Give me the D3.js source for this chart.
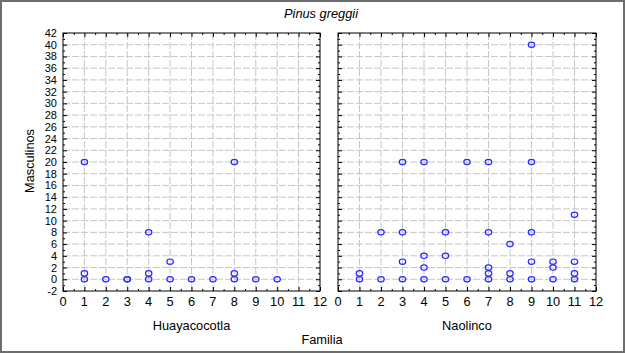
<!DOCTYPE html>
<html>
<head>
<meta charset="utf-8">
<script src="https://cdn.jsdelivr.net/npm/d3@7"></script>
<style>
  body { margin: 0; background: #fff; }
  svg text { font-family: "Liberation Sans", Arial, sans-serif; fill: #000; }
</style>
</head>
<body>
<div id="chart"></div>
<script>
// data
var xTicks = [0, 1, 2, 3, 4, 5, 6, 7, 8, 9, 10, 11, 12];
var yTicks = [-2, 0, 2, 4, 6, 8, 10, 12, 14, 16, 18, 20, 22, 24, 26, 28, 30, 32, 34, 36, 38, 40, 42];

var huayFamilia =    [1, 1, 1, 2, 3, 3, 4, 4, 4, 5, 5, 6, 7, 8, 8, 8, 9, 10];
var huayMasculinos = [20, 1, 0, 0, 0, 0, 8, 1, 0, 3, 0, 0, 0, 20, 1, 0, 0, 0];

var naoFamilia =    [1, 1, 2, 2, 3, 3, 3, 3, 4, 4, 4, 4, 5, 5, 5, 6, 6, 7, 7, 7, 7, 7, 8, 8, 8, 9, 9, 9, 9, 9, 10, 10, 10, 11, 11, 11, 11];
var naoMasculinos = [0, 1, 0, 8, 0, 3, 8, 20, 0, 2, 4, 20, 0, 4, 8, 0, 20, 0, 1, 2, 8, 20, 0, 1, 6, 0, 3, 8, 20, 40, 0, 2, 3, 0, 1, 3, 11];

var panels = [
    { name: 'Huayacocotla', fam: huayFamilia, masc: huayMasculinos, left: 63, right: 320, labels: true },
    { name: 'Naolinco', fam: naoFamilia, masc: naoMasculinos, left: 338, right: 596, labels: false }
];

var W = 625, H = 353;
var plotTop = 33, plotBottom = 291;
var fs = 12.8;

var svg = d3.select('#chart')
    .append('svg')
    .attr('width', W)
    .attr('height', H)

// outer frame
svg.append('rect')
    .attr('x', 1).attr('y', 1)
    .attr('width', W - 2).attr('height', H - 2)
    .attr('fill', '#fff')
    .attr('stroke', '#6e6e6e')
    .attr('stroke-width', 2)

svg.append('text')
    .attr('x', 321).attr('y', 18)
    .attr('text-anchor', 'middle')
    .attr('font-size', fs)
    .attr('font-style', 'italic')
    .text('Pinus greggii')

svg.append('text')
    .attr('transform', 'translate(34,161) rotate(-90)')
    .attr('text-anchor', 'middle')
    .attr('font-size', fs)
    .text('Masculinos')

svg.append('text')
    .attr('x', 322).attr('y', 344)
    .attr('text-anchor', 'middle')
    .attr('font-size', fs)
    .text('Familia')

var y = d3.scaleLinear().domain([-2, 42]).range([plotBottom, plotTop]);

panels.forEach(function (p) {
    var x = d3.scaleLinear().domain([0, 12]).range([p.left, p.right]);
    var g = svg.append('g');

    // grid
    g.selectAll('.vgrid')
        .data(xTicks.slice(1, -1))
        .enter()
        .append('line')
        .attr('x1', function (d) { return x(d); })
        .attr('x2', function (d) { return x(d); })
        .attr('y1', plotTop).attr('y2', plotBottom)
        .attr('stroke', '#c6c6c6')
        .attr('stroke-dasharray', '7,2')
    g.selectAll('.hgrid')
        .data(yTicks.slice(1, -1))
        .enter()
        .append('line')
        .attr('y1', function (d) { return y(d); })
        .attr('y2', function (d) { return y(d); })
        .attr('x1', p.left).attr('x2', p.right)
        .attr('stroke', '#c6c6c6')
        .attr('stroke-dasharray', '7,2')

    // inward ticks (major + minor)
    var xMinor = d3.range(0.5, 12, 1);
    var yMinor = d3.range(-1, 42, 2);
    var axes = [
        { gen: d3.axisBottom(x).tickValues(xTicks), pos: 'translate(0,' + plotBottom + ')', len: -4 },
        { gen: d3.axisTop(x).tickValues(xTicks), pos: 'translate(0,' + plotTop + ')', len: -4 },
        { gen: d3.axisLeft(y).tickValues(yTicks), pos: 'translate(' + p.left + ',0)', len: -4 },
        { gen: d3.axisRight(y).tickValues(yTicks), pos: 'translate(' + p.right + ',0)', len: -4 },
        { gen: d3.axisBottom(x).tickValues(xMinor), pos: 'translate(0,' + plotBottom + ')', len: -2 },
        { gen: d3.axisTop(x).tickValues(xMinor), pos: 'translate(0,' + plotTop + ')', len: -2 },
        { gen: d3.axisLeft(y).tickValues(yMinor), pos: 'translate(' + p.left + ',0)', len: -2 },
        { gen: d3.axisRight(y).tickValues(yMinor), pos: 'translate(' + p.right + ',0)', len: -2 }
    ];
    axes.forEach(function (a) {
        g.append('g').attr('transform', a.pos)
            .call(a.gen.tickSize(a.len).tickFormat(''))
            .call(function (s) { s.select('.domain').remove(); })
            .selectAll('line').attr('stroke', '#000');
    });

    g.append('rect')
        .attr('x', p.left).attr('y', plotTop)
        .attr('width', p.right - p.left).attr('height', plotBottom - plotTop)
        .attr('fill', 'none')
        .attr('stroke', '#000')
        .attr('stroke-width', 1)

    // x tick labels
    g.selectAll('.xl')
        .data(xTicks)
        .enter()
        .append('text')
        .attr('x', function (d) { return x(d); })
        .attr('y', 306)
        .attr('text-anchor', 'middle')
        .attr('font-size', fs)
        .text(function (d) { return d; })

    if (p.labels) {
        g.selectAll('.yl')
            .data(yTicks)
            .enter()
            .append('text')
            .attr('x', 57)
            .attr('y', function (d) { return y(d) + 4; })
            .attr('text-anchor', 'end')
            .attr('font-size', 11)
            .text(function (d) { return d; })
    }

    g.append('text')
        .attr('x', (p.left + p.right) / 2)
        .attr('y', 330)
        .attr('text-anchor', 'middle')
        .attr('font-size', fs)
        .text(p.name)

    // points
    g.selectAll('ellipse')
        .data(p.fam)
        .enter()
        .append('ellipse')
        .attr('cx', function (d) { return x(d); })
        .attr('cy', function (d, i) { return y(p.masc[i]); })
        .attr('rx', 3.2)
        .attr('ry', 2.7)
        .attr('fill', 'none')
        .attr('stroke', '#2a2aff')
        .attr('stroke-width', 1.2)
});
</script>
</body>
</html>
